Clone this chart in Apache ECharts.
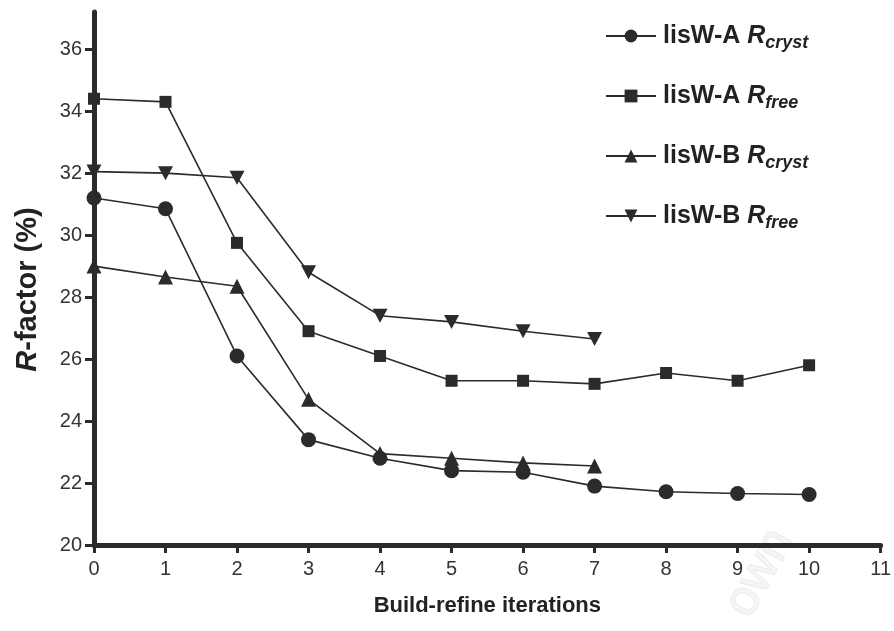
<!DOCTYPE html>
<html>
<head>
<meta charset="utf-8">
<script src="https://cdn.jsdelivr.net/npm/echarts@6/dist/echarts.min.js"></script>
<style>
  html, body { margin: 0; padding: 0; background: #ffffff; }
  #chart { width: 894px; height: 631px; }
</style>
</head>
<body>
<div id="chart"></div>
<script>
// Build-refine iterations (x) and R-factor values (%) for each model
const iterations = [0, 1, 2, 3, 4, 5, 6, 7, 8, 9, 10];
const xTicks = [0, 1, 2, 3, 4, 5, 6, 7, 8, 9, 10, 11];
const yTicks = [20, 22, 24, 26, 28, 30, 32, 34, 36];

const lisWA_Rcryst = [31.2, 30.85, 26.1, 23.4, 22.8, 22.4, 22.35, 21.9, 21.72, 21.66, 21.63];
const lisWA_Rfree  = [34.4, 34.3, 29.75, 26.9, 26.1, 25.3, 25.3, 25.2, 25.55, 25.3, 25.8];
const lisWB_Rcryst = [29.0, 28.65, 28.35, 24.7, 22.95, 22.8, 22.65, 22.55];
const lisWB_Rfree  = [32.05, 32.0, 31.85, 28.8, 27.4, 27.2, 26.9, 26.65];

const seriesNames = ['A_cryst', 'A_free', 'B_cryst', 'B_free'];
const legendText = {
  A_cryst: '{n|lisW-A }{r|R}{s|cryst}',
  A_free:  '{n|lisW-A }{r|R}{s|free}',
  B_cryst: '{n|lisW-B }{r|R}{s|cryst}',
  B_free:  '{n|lisW-B }{r|R}{s|free}'
};

const ink = '#2b2b2b';
const font = 'Liberation Sans, Arial, sans-serif';
const downTriangle = 'path://M0,0 L12,0 L6,11 Z';

function pairs(values) {
  return values.map((v, i) => [iterations[i], v]);
}

function lineSeries(name, values, symbol, size) {
  return {
    name: name,
    type: 'line',
    data: pairs(values),
    symbol: symbol,
    symbolSize: size,
    showAllSymbol: true,
    lineStyle: { color: ink, width: 1.6 },
    itemStyle: { color: ink, borderColor: ink, borderWidth: 0 },
    emphasis: { disabled: true },
    animation: false,
    z: 3
  };
}

const chart = echarts.init(document.getElementById('chart'), null, { renderer: 'canvas' });

chart.setOption({
  backgroundColor: '#ffffff',
  animation: false,
  textStyle: { fontFamily: font },
  grid: { left: 94, right: 12, top: 12, bottom: 86, containLabel: false },
  legend: {
    orient: 'vertical',
    left: 600,
    top: 15,
    itemGap: 28,
    itemWidth: 50,
    itemHeight: 16,
    data: seriesNames,
    formatter: name => legendText[name],
    textStyle: {
      color: '#222',
      padding: [0, 0, 0, 2],
      rich: {
        n: { fontSize: 25, fontWeight: 'bold', color: '#222', fontFamily: font, verticalAlign: 'middle', lineHeight: 32 },
        r: { fontSize: 25, fontStyle: 'italic', fontWeight: 'bold', color: '#222', fontFamily: font, verticalAlign: 'middle', lineHeight: 32 },
        s: { fontSize: 18, fontStyle: 'italic', fontWeight: 'bold', color: '#222', fontFamily: font, verticalAlign: 'bottom', lineHeight: 22, padding: [14, 0, 0, 0] }
      }
    }
  },
  xAxis: {
    type: 'value',
    min: 0,
    max: 11,
    interval: 1,
    name: 'Build-refine iterations',
    nameLocation: 'middle',
    nameGap: 50,
    nameTextStyle: { fontSize: 22, fontWeight: 'bold', color: '#222', fontFamily: font },
    axisLine: { show: true, onZero: false, lineStyle: { color: ink, width: 5 } },
    axisTick: { show: true, length: 8, lineStyle: { color: ink, width: 3 }, customValues: xTicks },
    axisLabel: { fontSize: 20, color: '#333', margin: 14, customValues: xTicks, fontFamily: font },
    splitLine: { show: false }
  },
  yAxis: {
    type: 'value',
    min: 20,
    max: 37.2,
    name: '{r|R}{n|-factor (%)}',
    nameLocation: 'middle',
    nameGap: 52,
    nameRotate: 90,
    nameTextStyle: {
      padding: [0, 22, 0, 0],
      rich: {
        r: { fontSize: 29, fontStyle: 'italic', fontWeight: 'bold', color: '#222', fontFamily: font },
        n: { fontSize: 29, fontWeight: 'bold', color: '#222', fontFamily: font }
      }
    },
    axisLine: { show: true, onZero: false, lineStyle: { color: ink, width: 5 } },
    axisTick: { show: true, length: 9, lineStyle: { color: ink, width: 3 }, customValues: yTicks },
    axisLabel: { fontSize: 20, color: '#333', margin: 12, customValues: yTicks, fontFamily: font },
    splitLine: { show: false }
  },
  graphic: [{
    type: 'text',
    left: 715,
    top: 520,
    rotation: Math.PI * 0.34,
    silent: true,
    z: 0,
    style: {
      text: 'own',
      fontSize: 50,
      fontFamily: font,
      fill: '#f5f5f5',
      stroke: '#e0e0e0',
      lineWidth: 1
    }
  }],
  series: [
    lineSeries('A_cryst', lisWA_Rcryst, 'circle', 15),
    lineSeries('A_free', lisWA_Rfree, 'rect', 12),
    lineSeries('B_cryst', lisWB_Rcryst, 'triangle', 15),
    lineSeries('B_free', lisWB_Rfree, downTriangle, [15, 14])
  ]
});
</script>
</body>
</html>
